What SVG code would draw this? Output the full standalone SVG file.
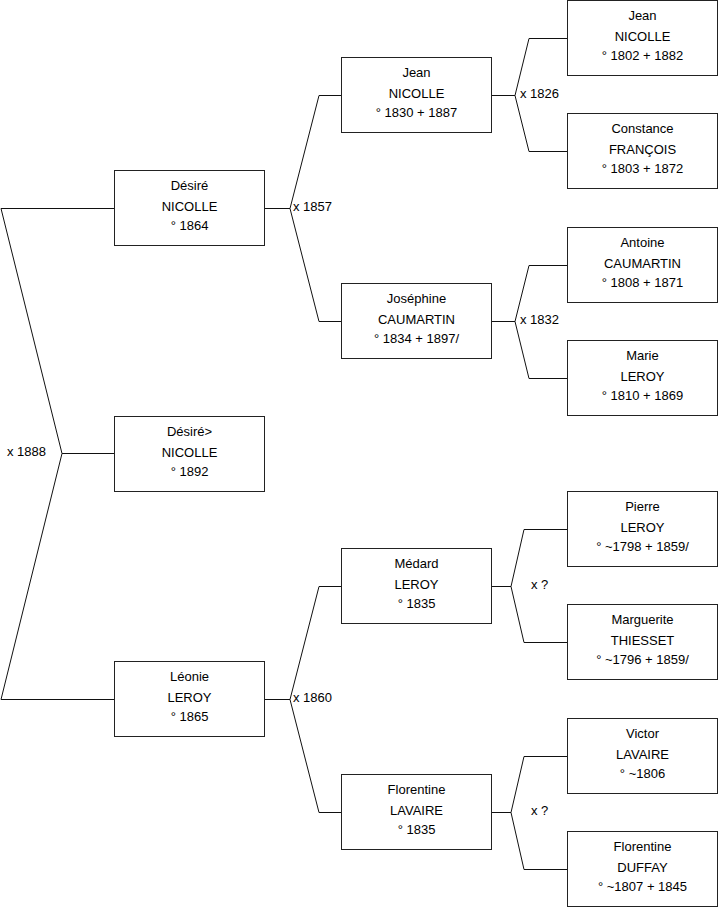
<svg xmlns="http://www.w3.org/2000/svg" width="719" height="908" viewBox="0 0 719 908">
<style>
.box{fill:#fff;stroke:#222;stroke-width:1}
.ln{fill:none;stroke:#111;stroke-width:1}
text{font-family:"Liberation Sans",Arial,sans-serif;font-size:13px;fill:#000}
.c{text-anchor:middle}
</style>
<rect width="719" height="908" fill="#fff"/>
<g id="connectors">
<polyline class="ln" points="114,208.5 1,208.5 62,453.5 1,699.5 114,699.5"/>
<line class="ln" x1="62" y1="453.5" x2="114" y2="453.5"/>
<polyline class="ln" points="341,95.5 319,95.5 290,208.5 319,321.5 341,321.5"/>
<line class="ln" x1="265" y1="208.5" x2="290" y2="208.5"/>
<polyline class="ln" points="341,586.5 319,586.5 290,699.5 319,812.5 341,812.5"/>
<line class="ln" x1="265" y1="699.5" x2="290" y2="699.5"/>
<polyline class="ln" points="567,38.5 529,38.5 515,95.5 529,151.5 567,151.5"/>
<line class="ln" x1="492" y1="95.5" x2="515" y2="95.5"/>
<polyline class="ln" points="567,265.5 529,265.5 515,321.5 529,378.5 567,378.5"/>
<line class="ln" x1="492" y1="321.5" x2="515" y2="321.5"/>
<polyline class="ln" points="567,529.5 524,529.5 511,586.5 524,642.5 567,642.5"/>
<line class="ln" x1="492" y1="586.5" x2="511" y2="586.5"/>
<polyline class="ln" points="567,756.5 524,756.5 511,812.5 524,869.5 567,869.5"/>
<line class="ln" x1="492" y1="812.5" x2="511" y2="812.5"/>
<text x="7" y="456">x 1888</text>
<text x="293" y="211">x 1857</text>
<text x="293" y="702">x 1860</text>
<text x="520" y="98">x 1826</text>
<text x="520" y="324">x 1832</text>
<text x="531" y="589">x ?</text>
<text x="531" y="815">x ?</text>
</g>
<g id="desire1"><rect class="box" x="114.5" y="170.5" width="150" height="75"/>
<text class="c" x="189.5" y="190">Désiré</text><text class="c" x="189.5" y="211">NICOLLE</text><text class="c" x="189.5" y="230">° 1864</text></g>
<g id="desire2"><rect class="box" x="114.5" y="416.5" width="150" height="75"/>
<text class="c" x="189.5" y="436">Désiré&gt;</text><text class="c" x="189.5" y="457">NICOLLE</text><text class="c" x="189.5" y="476">° 1892</text></g>
<g id="leonie"><rect class="box" x="114.5" y="661.5" width="150" height="75"/>
<text class="c" x="189.5" y="681">Léonie</text><text class="c" x="189.5" y="702">LEROY</text><text class="c" x="189.5" y="721">° 1865</text></g>
<g id="jean2"><rect class="box" x="341.5" y="57.5" width="150" height="75"/>
<text class="c" x="416.5" y="77">Jean</text><text class="c" x="416.5" y="98">NICOLLE</text><text class="c" x="416.5" y="117">° 1830 + 1887</text></g>
<g id="josephine"><rect class="box" x="341.5" y="283.5" width="150" height="75"/>
<text class="c" x="416.5" y="303">Joséphine</text><text class="c" x="416.5" y="324">CAUMARTIN</text><text class="c" x="416.5" y="343">° 1834 + 1897/</text></g>
<g id="medard"><rect class="box" x="341.5" y="548.5" width="150" height="75"/>
<text class="c" x="416.5" y="568">Médard</text><text class="c" x="416.5" y="589">LEROY</text><text class="c" x="416.5" y="608">° 1835</text></g>
<g id="florentine2"><rect class="box" x="341.5" y="774.5" width="150" height="75"/>
<text class="c" x="416.5" y="794">Florentine</text><text class="c" x="416.5" y="815">LAVAIRE</text><text class="c" x="416.5" y="834">° 1835</text></g>
<g id="jean3"><rect class="box" x="567.5" y="0.5" width="150" height="75"/>
<text class="c" x="642.5" y="20">Jean</text><text class="c" x="642.5" y="41">NICOLLE</text><text class="c" x="642.5" y="60">° 1802 + 1882</text></g>
<g id="constance"><rect class="box" x="567.5" y="113.5" width="150" height="75"/>
<text class="c" x="642.5" y="133">Constance</text><text class="c" x="642.5" y="154">FRANÇOIS</text><text class="c" x="642.5" y="173">° 1803 + 1872</text></g>
<g id="antoine"><rect class="box" x="567.5" y="227.5" width="150" height="75"/>
<text class="c" x="642.5" y="247">Antoine</text><text class="c" x="642.5" y="268">CAUMARTIN</text><text class="c" x="642.5" y="287">° 1808 + 1871</text></g>
<g id="marie"><rect class="box" x="567.5" y="340.5" width="150" height="75"/>
<text class="c" x="642.5" y="360">Marie</text><text class="c" x="642.5" y="381">LEROY</text><text class="c" x="642.5" y="400">° 1810 + 1869</text></g>
<g id="pierre"><rect class="box" x="567.5" y="491.5" width="150" height="75"/>
<text class="c" x="642.5" y="511">Pierre</text><text class="c" x="642.5" y="532">LEROY</text><text class="c" x="642.5" y="551">° ~1798 + 1859/</text></g>
<g id="marguerite"><rect class="box" x="567.5" y="604.5" width="150" height="75"/>
<text class="c" x="642.5" y="624">Marguerite</text><text class="c" x="642.5" y="645">THIESSET</text><text class="c" x="642.5" y="664">° ~1796 + 1859/</text></g>
<g id="victor"><rect class="box" x="567.5" y="718.5" width="150" height="75"/>
<text class="c" x="642.5" y="738">Victor</text><text class="c" x="642.5" y="759">LAVAIRE</text><text class="c" x="642.5" y="778">° ~1806</text></g>
<g id="florentine3"><rect class="box" x="567.5" y="831.5" width="150" height="75"/>
<text class="c" x="642.5" y="851">Florentine</text><text class="c" x="642.5" y="872">DUFFAY</text><text class="c" x="642.5" y="891">° ~1807 + 1845</text></g>
</svg>
